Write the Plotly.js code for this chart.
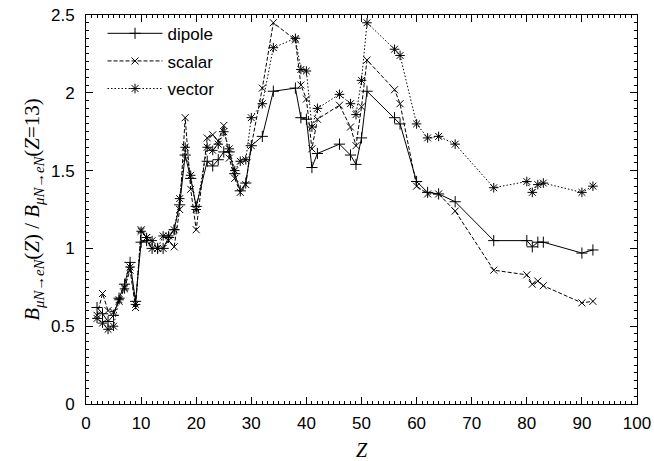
<!DOCTYPE html>
<html>
<head>
<meta charset="utf-8">
<script src="https://cdn.plot.ly/plotly-3.0.1.min.js"></script>
<style>html,body{margin:0;padding:0;background:#fff;}#chart{width:654px;height:461px;}</style>
</head>
<body>
<div id="chart"></div>
<script>
var Z = [2,3,4,5,6,7,8,9,10,11,12,13,14,15,16,17,18,19,20,22,23,24,25,26,27,28,29,30,32,34,38,39,40,41,42,46,48,49,50,51,56,57,60,62,64,67,74,80,81,82,83,90,92];
var dipole = [0.62,0.58,0.53,0.57,0.68,0.77,0.91,0.66,1.04,1.05,1.00,1.00,1.00,1.07,1.12,1.28,1.60,1.45,1.27,1.56,1.53,1.57,1.62,1.62,1.48,1.37,1.42,1.66,1.72,2.01,2.03,1.84,1.83,1.52,1.61,1.67,1.60,1.54,1.71,2.01,1.84,1.80,1.43,1.36,1.35,1.30,1.05,1.05,1.01,1.04,1.04,0.97,0.99];
var scalar = [0.57,0.71,0.60,0.59,0.66,0.75,0.86,0.62,1.12,1.07,1.00,1.00,1.00,1.05,1.01,1.25,1.84,1.38,1.12,1.71,1.73,1.69,1.79,1.58,1.45,1.36,1.41,1.66,2.03,2.45,2.34,2.05,1.96,1.64,1.83,1.92,1.78,1.66,1.91,2.21,2.02,1.93,1.40,1.35,1.35,1.24,0.86,0.83,0.77,0.79,0.76,0.65,0.66];
var vector = [0.55,0.52,0.48,0.50,0.67,0.74,0.88,0.64,1.11,1.07,1.05,1.00,1.08,1.08,1.12,1.32,1.65,1.47,1.25,1.65,1.63,1.67,1.75,1.64,1.50,1.56,1.57,1.84,1.93,2.29,2.35,2.15,2.14,1.78,1.90,1.99,1.93,1.86,2.08,2.45,2.28,2.24,1.80,1.71,1.72,1.67,1.39,1.43,1.36,1.41,1.42,1.36,1.40];
var names = ['dipole','scalar','vector'];

var traces = [
  {x: Z, y: dipole, name: names[0], legendgroup: 'a', mode: 'lines+markers', type: 'scatter',
   line: {color: '#000', width: 1, dash: 'solid'},
   marker: {symbol: 'cross-thin-open', size: 8, color: '#000', line: {color: '#000', width: 1}}},
  {x: Z, y: scalar, name: names[1], legendgroup: 'b', mode: 'lines+markers', type: 'scatter',
   line: {color: '#000', width: 1, dash: '4px,2px'},
   marker: {symbol: 'x-thin-open', size: 7, color: '#000', line: {color: '#000', width: 1}}},
  {x: Z, y: vector, name: names[2], legendgroup: 'c', mode: 'lines+markers', type: 'scatter',
   line: {color: '#000', width: 1, dash: '1.5px,2px'},
   marker: {symbol: 'asterisk-open', size: 8, color: '#000', line: {color: '#000', width: 1}}}
];

var sans = 'Liberation Sans, Arial, sans-serif';
var serif = 'Liberation Serif, Times New Roman, serif';

var axisCommon = {
  showline: true, linecolor: '#000', linewidth: 1, mirror: 'allticks',
  ticks: 'inside', ticklen: 7, tickwidth: 1, tickcolor: '#000',
  showgrid: false, zeroline: false,
  tickfont: {family: sans, size: 17, color: '#000'}
};

var layout = {
  width: 654, height: 461,
  margin: {l: 86, r: 17, t: 15, b: 57},
  paper_bgcolor: '#fff', plot_bgcolor: '#fff',
  showlegend: true,
  legend: {x: 0.03, y: 0.998, xanchor: 'left', yanchor: 'top', bgcolor: 'rgba(0,0,0,0)',
           font: {family: sans, size: 17, color: '#000'},
           itemwidth: 55, tracegroupgap: 2.5},
  xaxis: Object.assign({}, axisCommon, {
    range: [0, 100], dtick: 10, tick0: 0, ticklabelstandoff: 4,
    minor: {dtick: 1, ticks: 'inside', ticklen: 3, tickcolor: '#000', tickwidth: 1, showgrid: false},
    title: {text: '<i>Z</i>', font: {family: serif, size: 20, color: '#000'}, standoff: 12}
  }),
  yaxis: Object.assign({}, axisCommon, {
    range: [0, 2.5], dtick: 0.5, tick0: 0, ticklabelstandoff: 7,
    minor: {dtick: 0.05, ticks: 'inside', ticklen: 3, tickcolor: '#000', tickwidth: 1, showgrid: false},
    title: {text: '<i>B</i><sub><i>μN→eN</i></sub>(<i>Z</i>) / <i>B</i><sub><i>μN→eN</i></sub>(<i>Z</i>=13)',
            font: {family: serif, size: 21, color: '#000'}, standoff: 5}
  })
};

Plotly.newPlot('chart', traces, layout, {displayModeBar: false, staticPlot: true});
</script>
</body>
</html>
